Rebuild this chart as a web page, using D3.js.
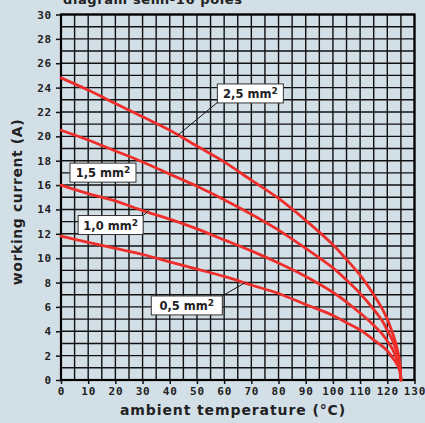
<!DOCTYPE html>
<html><head><meta charset="utf-8">
<script src="https://cdn.jsdelivr.net/npm/d3@7"></script>
<style>
html,body{margin:0;padding:0;background:#d3dfe7;}
svg{display:block;}
</style></head>
<body>
<script>
const temps = [0,10,20,30,40,50,60,70,80,90,100,105,110,115,118,120,122,123,124,124.6,125];
const cur25 = [24.8,23.8,22.7,21.6,20.5,19.2,17.9,16.4,14.9,13.1,11.1,9.9,8.6,7.0,5.9,5.0,3.8,3.1,2.2,1.4,0];
const cur15 = [20.5,19.7,18.8,17.9,16.9,15.9,14.8,13.6,12.3,10.8,9.2,8.2,7.1,5.8,4.9,4.1,3.2,2.6,1.8,1.2,0];
const cur10 = [16.0,15.3,14.7,13.9,13.2,12.4,11.5,10.6,9.6,8.5,7.2,6.4,5.5,4.5,3.8,3.2,2.5,2.0,1.4,0.9,0];
const cur05 = [11.8,11.3,10.8,10.3,9.7,9.1,8.5,7.8,7.1,6.2,5.3,4.7,4.1,3.3,2.8,2.4,1.8,1.5,1.1,0.7,0];
const seriesNames = ["2,5","1,5","1,0","0,5"];
const xTicks = [0,10,20,30,40,50,60,70,80,90,100,110,120,130];
const yTicks = [0,2,4,6,8,10,12,14,16,18,20,22,24,26,28,30];
const titleText = "diagram semi-16 poles";
const xTitle = "ambient temperature (°C)";
const yTitle = "working current (A)";

const W = 425, H = 423;
const svg = d3.select("body").append("svg").attr("width", W).attr("height", H);
svg.append("rect").attr("width", W).attr("height", H).attr("fill", "#d3dfe7");

const x = d3.scaleLinear().domain([0,130]).range([61,414.5]);
const y = d3.scaleLinear().domain([0,30]).range([380,14.5]);

// title (clipped at top edge, as in the reference)
svg.append("text").attr("x",63).attr("y",4).attr("font-family","DejaVu Sans").attr("font-weight","bold")
  .attr("font-size",13).attr("letter-spacing",0.6).attr("fill","#222").text(titleText);

// grid
const g = svg.append("g");
g.selectAll("line.v").data(d3.range(0,131,5)).join("line")
  .attr("x1",d=>x(d)).attr("x2",d=>x(d)).attr("y1",y(0)).attr("y2",y(30))
  .attr("stroke","#111").attr("stroke-width",1.4);
g.selectAll("line.h").data(d3.range(0,31,1)).join("line")
  .attr("x1",x(0)).attr("x2",x(130)).attr("y1",d=>y(d)).attr("y2",d=>y(d))
  .attr("stroke","#111").attr("stroke-width",1.4);
g.append("rect").attr("x",x(0)).attr("y",y(30)).attr("width",x(130)-x(0)).attr("height",y(0)-y(30))
  .attr("fill","none").attr("stroke","#000").attr("stroke-width",2.2);

// axes
const fontTick = "DejaVu Sans Mono";
const xAxis = d3.axisBottom(x).tickValues(xTicks).tickSize(4).tickPadding(3);
const xa = svg.append("g").attr("transform",`translate(0,${y(0)})`).call(xAxis);
const yAxis = d3.axisLeft(y).tickValues(yTicks).tickSize(5).tickPadding(4);
const ya = svg.append("g").attr("transform",`translate(${x(0)},0)`).call(yAxis);
[xa,ya].forEach(a=>{
  a.select(".domain").remove();
  a.selectAll(".tick line").attr("stroke","#111").attr("stroke-width",1.5);
  a.selectAll(".tick text").attr("font-family",fontTick).attr("font-weight","bold")
    .attr("font-size",11).attr("letter-spacing",0.8).attr("fill","#222");
});

// axis titles
svg.append("text").attr("x",233).attr("y",415).attr("text-anchor","middle")
  .attr("font-family","DejaVu Sans").attr("font-weight","bold").attr("font-size",14)
  .attr("letter-spacing",0.9).attr("fill","#222").text(xTitle);
svg.append("text").attr("transform","translate(22,202) rotate(-90)").attr("text-anchor","middle")
  .attr("font-family","DejaVu Sans").attr("font-weight","bold").attr("font-size",14)
  .attr("letter-spacing",0.6).attr("fill","#222").text(yTitle);

// curves
const line = d3.line().x(d=>x(d[0])).y(d=>y(d[1])).curve(d3.curveCatmullRom.alpha(0.5));
[cur25,cur15,cur10,cur05].forEach(vals=>{
  svg.append("path").datum(temps.map((t,i)=>[t,vals[i]])).attr("d",line)
    .attr("fill","none").attr("stroke","#ee2e2a").attr("stroke-width",2.8).attr("stroke-linecap","round");
});

// labels
const labels = [
  {name:seriesNames[0], bx:57.5, by:24.3, bw:66, lead:[[57.6,22.8],[43,20.1]]},
  {name:seriesNames[1], bx:3.3, by:17.8, bw:66, lead:null},
  {name:seriesNames[2], bx:6.3, by:13.5, bw:65, lead:[[30.3,13.5],[32.2,13.9]]},
  {name:seriesNames[3], bx:33.2, by:6.9, bw:71, lead:[[59.3,6.9],[67.8,8.0]]},
];
labels.forEach(l=>{
  const gx = x(l.bx), gy = y(l.by);
  if(l.lead){
    svg.append("line").attr("x1",x(l.lead[0][0])).attr("y1",y(l.lead[0][1]))
      .attr("x2",x(l.lead[1][0])).attr("y2",y(l.lead[1][1])).attr("stroke","#111").attr("stroke-width",1);
  }
  svg.append("rect").attr("x",gx).attr("y",gy).attr("width",l.bw).attr("height",19)
    .attr("fill","#fff").attr("stroke","#333").attr("stroke-width",1);
  const t = svg.append("text").attr("x",gx+l.bw/2).attr("y",gy+14).attr("text-anchor","middle")
    .attr("font-family","DejaVu Sans").attr("font-weight","bold").attr("font-size",11.5).attr("fill","#222");
  t.append("tspan").text(l.name+" mm");
  t.append("tspan").attr("dy",-4).attr("font-size",9).text("2");
});
</script>
</body></html>
